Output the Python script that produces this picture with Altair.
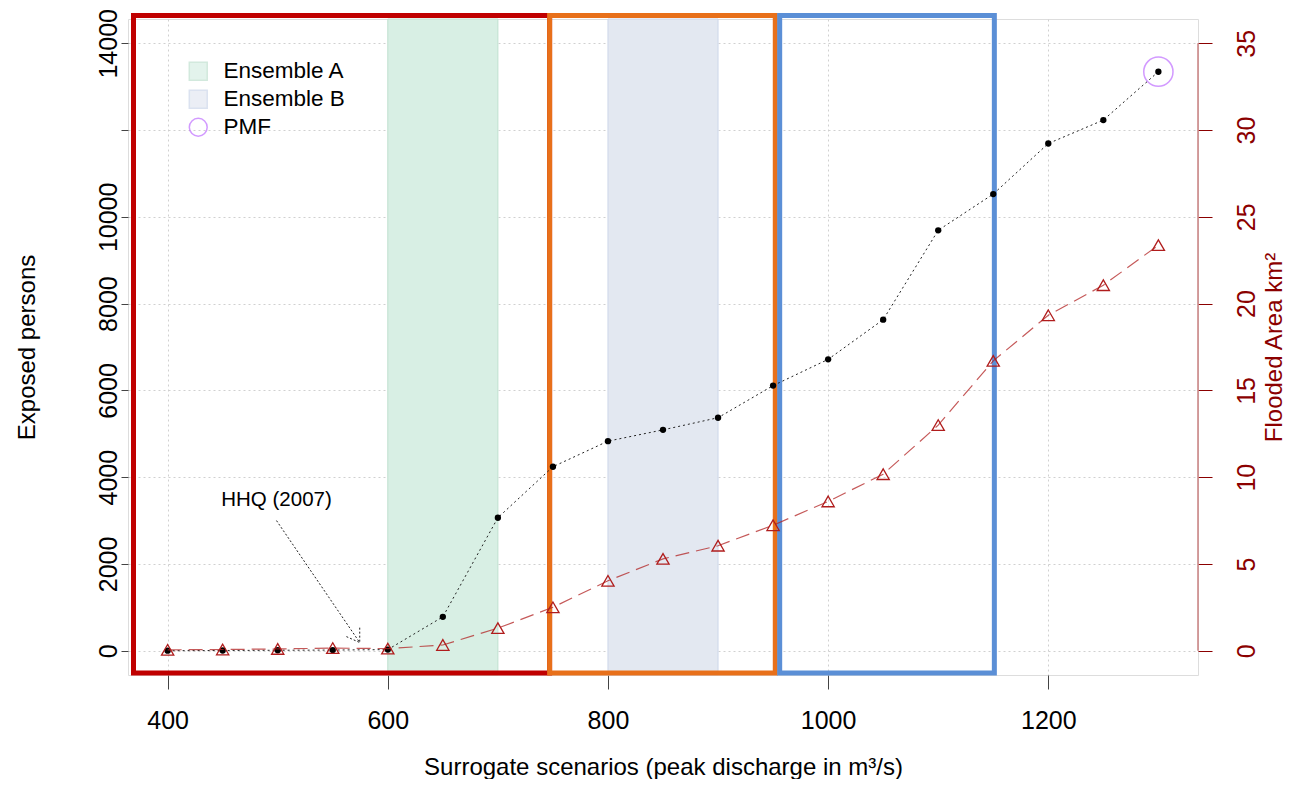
import altair as alt
import pandas as pd

# ---------------- data ----------------
scenario = [400, 450, 500, 550, 600, 650, 700, 750, 800, 850, 900, 950,
            1000, 1050, 1100, 1150, 1200, 1250, 1300]
exposed = [0, 5, 10, 15, 25, 780, 3065, 4240, 4830, 5090, 5370, 6110,
           6715, 7630, 9690, 10525, 11690, 12230, 13345]
flooded = [0.05, 0.07, 0.1, 0.15, 0.12, 0.33, 1.3, 2.5, 4.03, 5.29, 6.05, 7.23,
           8.6, 10.17, 13.0, 16.7, 19.33, 21.06, 23.37]

band_names = ["Ensemble A", "Ensemble B"]
band_start = [600, 800]
band_end = [700, 900]

legend_names = ["Ensemble A", "Ensemble B", "PMF"]
legend_fill = ["#d8efe4", "#e3e8f1", "transparent"]
legend_stroke = ["#bfe0cf", "#ccd6ea", "#c070ff"]
legend_shape = ["square", "square", "circle"]

box_names = ["low", "mid", "high"]
box_start = [369, 747, 956]
box_end = [747, 952, 1151]
box_bottom = [-515, -515, -515]
box_top = [14640, 14640, 14640]
box_color = ["#c00000", "#e8701a", "#5b8fd6"]

pmf_scenario = [1300]
pmf_exposed = [13345]

hhq_text = ["HHQ (2007)"]
hhq_x = [498.9]
hhq_y = [3480]
arrow_x = [498.9, 562.4, 574.5]
arrow_y = [2999, 325, 531]
arrow_x2 = [574.5, 574.5, 574.5]
arrow_y2 = [188, 188, 188]

x_domain = [364, 1336]
yl_domain = [-560, 14560]
yr_domain = [-1.4, 36.4]
x_ticks = [400, 600, 800, 1000, 1200]
yl_ticks = [0, 2000, 4000, 6000, 8000, 10000, 12000, 14000]
yr_ticks = [0, 5, 10, 15, 20, 25, 30, 35]
yr_axis_line = [0, 35]

FONT = "Liberation Sans"
DARKRED = "#8b0000"
W, H = 1070, 656

main = pd.DataFrame({"x": scenario, "exposed": exposed, "area": flooded})
bands = pd.DataFrame({"label": band_names, "x": band_start, "x2": band_end,
                      "y": [yl_domain[0]] * 2, "y2": [yl_domain[1]] * 2})
boxes = pd.DataFrame({"name": box_names, "x": box_start, "x2": box_end,
                      "y": box_bottom, "y2": box_top, "c": box_color})
pmf = pd.DataFrame({"label": ["PMF"], "x": pmf_scenario, "y": pmf_exposed})
hhq = pd.DataFrame({"t": hhq_text, "x": hhq_x, "y": hhq_y})
arrow = pd.DataFrame({"x": arrow_x, "y": arrow_y, "x2": arrow_x2, "y2": arrow_y2})
raxis = pd.DataFrame({"lo": [yr_axis_line[0]], "hi": [yr_axis_line[1]]})

xs = alt.Scale(domain=x_domain, nice=False, zero=False)
yls = alt.Scale(domain=yl_domain, nice=False, zero=False)
yrs = alt.Scale(domain=yr_domain, nice=False, zero=False)

x_axis = alt.Axis(values=x_ticks, title="Surrogate scenarios (peak discharge in m³/s)",
                  format="d",
                  grid=True, gridColor="#d0d0d0", gridDash=[2, 3], gridWidth=1,
                  tickSize=14, tickColor="#444", domain=False,
                  labelFont=FONT, labelFontSize=25, labelColor="#000", labelPadding=31,
                  labelBaseline="middle", labelFlush=False,
                  titleFont=FONT, titleFontSize=24, titleFontWeight="normal", titleColor="#000",
                  titleY=92, titleBaseline="middle")

yl_axis = alt.Axis(values=yl_ticks, title="Exposed persons", orient="left", format="d",
                   labelExpr="datum.value == 12000 ? '' : datum.label",
                   grid=True, gridColor="#d0d0d0", gridDash=[2, 3], gridWidth=1,
                   tickSize=7, tickColor="#444", domain=False,
                   labelAngle=270, labelAlign="center", labelBaseline="bottom", labelPadding=0,
                   labelFont=FONT, labelFontSize=25, labelColor="#000", labelFlush=False,
                   titleFont=FONT, titleFontSize=24, titleFontWeight="normal", titleColor="#000",
                   titleAngle=270, titleX=-101, titleY=H / 2, titleAlign="center",
                   titleBaseline="middle")

yr_axis = alt.Axis(values=yr_ticks, title="Flooded Area km²", orient="right",
                   grid=False, tickSize=14, tickColor=DARKRED, domain=False,
                   labelAngle=270, labelAlign="center", labelBaseline="top", labelPadding=22,
                   labelFont=FONT, labelFontSize=25, labelColor=DARKRED, labelFlush=False,
                   titleFont=FONT, titleFontSize=24, titleFontWeight="normal", titleColor=DARKRED,
                   titleAngle=270, titleX=76, titleY=H / 2, titleAlign="center",
                   titleBaseline="middle")

leg = alt.Legend(title=None, orient="none", legendX=59, legendY=41, padding=0,
                 labelFont=FONT, labelFontSize=22.5, labelColor="#000", labelOffset=14,
                 symbolSize=320, symbolStrokeWidth=1.5, rowPadding=3, labelLimit=300)

fill_scale = alt.Scale(domain=legend_names, range=legend_fill)
stroke_scale = alt.Scale(domain=legend_names, range=legend_stroke)
shape_scale = alt.Scale(domain=legend_names, range=legend_shape)


def X(field):
    return alt.X(field, scale=xs, axis=x_axis)


def YL(field):
    return alt.Y(field, scale=yls, axis=yl_axis)


def YR(field):
    return alt.Y(field, scale=yrs, axis=yr_axis)


band_layer = alt.Chart(bands).mark_rect(strokeWidth=1).encode(
    x=X("x:Q"), x2="x2:Q", y=YL("y:Q"), y2="y2:Q",
    fill=alt.Fill("label:N", scale=fill_scale, legend=leg),
    stroke=alt.Stroke("label:N", scale=stroke_scale, legend=leg),
)

box_layer = alt.Chart(boxes).mark_rect(filled=False, strokeWidth=5, strokeJoin="miter").encode(
    x=X("x:Q"), x2="x2:Q", y=YL("y:Q"), y2="y2:Q",
    stroke=alt.Stroke("c:N", scale=None, legend=None),
)

exp_line = alt.Chart(main).mark_line(color="#222", strokeWidth=1, strokeDash=[2, 3]).encode(
    x=X("x:Q"), y=YL("exposed:Q"),
)
exp_pts = alt.Chart(main).mark_circle(color="#000", size=40, opacity=1).encode(
    x=X("x:Q"), y=YL("exposed:Q"),
)

pmf_layer = alt.Chart(pmf).mark_point(strokeWidth=1.5, size=855).encode(
    x=X("x:Q"), y=YL("y:Q"),
    stroke=alt.Stroke("label:N", scale=stroke_scale, legend=leg),
    fill=alt.Fill("label:N", scale=fill_scale, legend=leg),
    shape=alt.Shape("label:N", scale=shape_scale, legend=leg),
)

hhq_layer = alt.Chart(hhq).mark_text(font=FONT, fontSize=20.5, color="#000").encode(
    x=X("x:Q"), y=YL("y:Q"), text="t:N",
)
arrow_layer = alt.Chart(arrow).mark_rule(color="#222", strokeWidth=1, strokeDash=[2, 2]).encode(
    x=X("x:Q"), y=YL("y:Q"), x2="x2:Q", y2="y2:Q",
)

left = alt.layer(band_layer, box_layer, exp_line, exp_pts, pmf_layer, hhq_layer, arrow_layer)

area_line = alt.Chart(main).mark_line(color="#b22222", opacity=0.75, strokeWidth=1.2,
                                      strokeDash=[14, 7]).encode(
    x=X("x:Q"), y=YR("area:Q"),
)
area_pts = alt.Chart(main).mark_point(shape="triangle-up", filled=False, color="#b01c1c",
                                      size=150, strokeWidth=1.3, opacity=1).encode(
    x=X("x:Q"), y=YR("area:Q"),
)
raxis_layer = alt.Chart(raxis).mark_rule(color="#c98080", strokeWidth=1.5).encode(
    x=alt.value(W), y=YR("lo:Q"), y2="hi:Q",
)

right = alt.layer(area_line, area_pts, raxis_layer)

chart = alt.layer(left, right).resolve_scale(y="independent").properties(
    width=W, height=H,
    padding={"left": 120, "top": 11, "right": 90, "bottom": 104},
    autosize=alt.AutoSizeParams(type="none"),
).configure_view(stroke="#333", strokeWidth=1).configure(background="white")

chart.save("out.html", embed_options={"renderer": "svg", "actions": False})
